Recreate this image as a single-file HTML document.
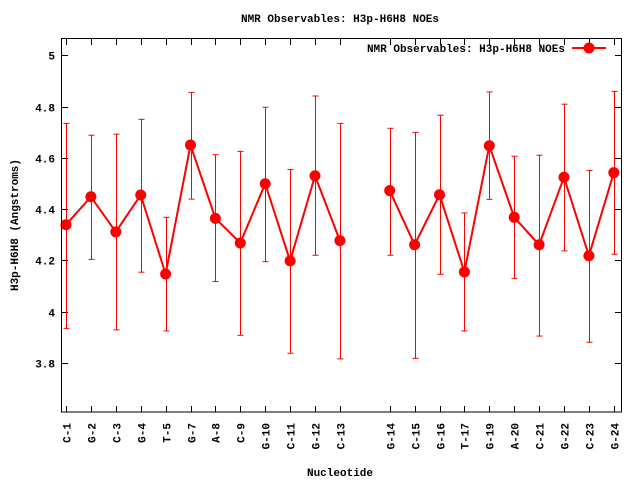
<!DOCTYPE html>
<html><head><meta charset="utf-8"><style>
body{margin:0;background:#fff}
svg{display:block}
text{font-family:"Liberation Mono","DejaVu Sans Mono",monospace;font-weight:bold;font-size:11px;fill:#000}
</style></head><body>
<svg id="chart" width="640" height="480" viewBox="0 0 640 480">
<rect x="0" y="0" width="640" height="480" fill="#fff"/>
<text x="340" y="22" text-anchor="middle">NMR Observables: H3p-H6H8 NOEs</text>
<text transform="translate(18,225) rotate(-90)" text-anchor="middle">H3p-H6H8 (Angstroms)</text>
<text x="340" y="476" text-anchor="middle">Nucleotide</text>
<g id="axes"></g>
<g id="series"></g>
<g>
<text x="565" y="52" text-anchor="end">NMR Observables: H3p-H6H8 NOEs</text>
<line x1="572" y1="48" x2="606" y2="48" stroke="#f00" stroke-width="2"/>
<circle cx="589" cy="48" r="5.5" fill="#f00"/>
</g>
<rect x="61.5" y="38.5" width="560" height="373.5" fill="none" stroke="#000" stroke-width="1"/>
</svg>
<script>
const categories = ["C-1","G-2","C-3","G-4","T-5","G-7","A-8","C-9","G-10","C-11","G-12","C-13","","G-14","C-15","G-16","T-17","G-19","A-20","C-21","G-22","C-23","G-24"];
const values = [4.339,4.448,4.311,4.455,4.147,4.650,4.364,4.268,4.499,4.198,4.530,4.277,null,4.472,4.261,4.456,4.155,4.647,4.368,4.261,4.524,4.218,4.542];
const errHigh = [4.734,4.688,4.692,4.750,4.368,4.855,4.612,4.625,4.797,4.554,4.841,4.734,null,4.715,4.699,4.766,4.385,4.857,4.606,4.610,4.809,4.551,4.859];
const errLow = [3.935,4.204,3.929,4.154,3.925,4.439,4.118,3.908,4.195,3.838,4.220,3.816,null,4.220,3.818,4.146,3.925,4.438,4.130,3.905,4.237,3.881,4.224];
const yTicks = [3.8,4,4.2,4.4,4.6,4.8,5];
const yTickLabels = ["3.8","4","4.2","4.4","4.6","4.8","5"];

const NS = "http://www.w3.org/2000/svg";
function xPos(i){ return 66 + i*24.9; }
function yPos(v){ return 311.7 - (v-4)*256.5; }
function mk(tag, attrs, parent){
  const e = document.createElementNS(NS, tag);
  for (const k in attrs) e.setAttribute(k, attrs[k]);
  parent.appendChild(e);
  return e;
}
const axes = document.getElementById('axes');
const series = document.getElementById('series');

yTicks.forEach((v,i)=>{
  const y = Math.round(yPos(v))+0.5;
  let t = mk('line',{x1:62,y1:y,x2:68,y2:y,stroke:'#000'},axes);
  
  
  t = mk('line',{x1:615,y1:y,x2:621,y2:y,stroke:'#000'},axes);
  
  
  const lb = mk('text',{x:55,y:y+4,'text-anchor':'end'},axes);
  lb.textContent = yTickLabels[i];
  
  
});

categories.forEach((c,i)=>{
  if (!c) return;
  const x = Math.round(xPos(i))+0.5;
  let t = mk('line',{x1:x,y1:412,x2:x,y2:406,stroke:'#000'},axes);
  
  
  t = mk('line',{x1:x,y1:39,x2:x,y2:45,stroke:'#000'},axes);
  
  
  const lb = mk('text',{transform:'translate('+(x+4)+',423) rotate(-90)','text-anchor':'end'},axes);
  lb.textContent = c;
  
  
});

// error bars
values.forEach((v,i)=>{
  if (v===null) return;
  const x = Math.round(xPos(i))+0.5;
  const y1 = yPos(errHigh[i]), y2 = yPos(errLow[i]);
  const g = mk('g',{},series);
  
  
  mk('line',{x1:x,y1:y1,x2:x,y2:y2,stroke:'#f00','stroke-width':1},g);
  mk('line',{x1:x-3,y1:y1,x2:x+3,y2:y1,stroke:'#f00','stroke-width':1},g);
  mk('line',{x1:x-3,y1:y2,x2:x+3,y2:y2,stroke:'#f00','stroke-width':1},g);
});

// lines (broken at null)
let segs = [], cur = [];
values.forEach((v,i)=>{
  if (v===null){ if(cur.length) segs.push(cur); cur=[]; }
  else cur.push(xPos(i).toFixed(1)+','+yPos(v).toFixed(1));
});
if (cur.length) segs.push(cur);
segs.forEach(s=>{
  const p = mk('polyline',{points:s.join(' '),fill:'none',stroke:'#f00','stroke-width':2},series);
  
  
});

values.forEach((v,i)=>{
  if (v===null) return;
  const c = mk('circle',{cx:xPos(i),cy:yPos(v),r:5.5,fill:'#f00'},series);
  
  
});
</script>
</body></html>
